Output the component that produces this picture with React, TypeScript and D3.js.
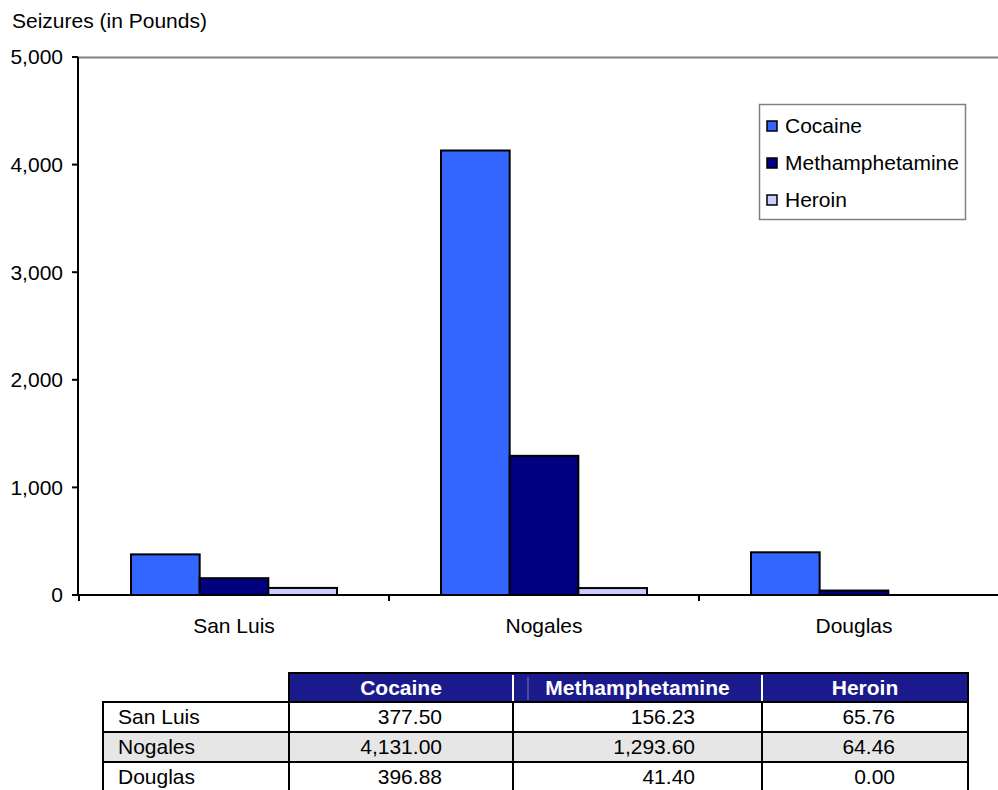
import React from "react";
import * as d3 from "d3";

const categories = ["San Luis", "Nogales", "Douglas"];
const seriesNames = ["Cocaine", "Methamphetamine", "Heroin"];
const cocaine = [377.5, 4131.0, 396.88];
const methamphetamine = [156.23, 1293.6, 41.4];
const heroin = [65.76, 64.46, 0.0];
const yTicks = [0, 1000, 2000, 3000, 4000, 5000];
const colors = ["#3366FF", "#000080", "#CCCCFF"];

const W = 998;
const H = 790;
const FONT = "'Liberation Sans', Arial, sans-serif";
const FS = 21;

export default function App() {
  const series = [cocaine, methamphetamine, heroin];
  const x0 = 79, x1 = 1009;
  const y0 = 595, y1 = 57;
  const xBand = d3.scaleBand<string>().domain(categories).range([x0, x1]).paddingInner(0).paddingOuter(0);
  const bw = xBand.bandwidth();
  const pad = 52;
  const xInner = d3.scaleBand<string>().domain(seriesNames).range([0, bw - 2 * pad]).padding(0);
  const y = d3.scaleLinear().domain([0, 5000]).range([y0, y1]);
  const fmtAxis = d3.format(",");
  const fmtTable = d3.format(",.2f");

  // table geometry
  const colEdges = [103, 289, 513, 762, 968];
  const headerTop = 673, headerH = 29, rowH = 30;
  const valueRight = [442, 695, 895];

  return (
    <svg width={W} height={H} style={{ position: "fixed", left: 0, top: 0, background: "#fff" }} fontFamily={FONT}>
      <rect x={0} y={0} width={W} height={H} fill="#fff" />
      <text x={12} y={28} fontSize={FS} fill="#000">Seizures (in Pounds)</text>

      {/* top border of plot area */}
      <line x1={78} x2={W} y1={y1 + 0.5} y2={y1 + 0.5} stroke="#808080" strokeWidth={2} />

      {/* bars */}
      {categories.map((c, ci) => (
        <g key={c}>
          {series.map((s, si) => {
            const bx = (xBand(c) as number) + pad + (xInner(seriesNames[si]) as number);
            const by = y(s[ci]);
            const h = y0 - by;
            if (h <= 0) return null;
            return (
              <rect key={si} x={bx} y={by} width={xInner.bandwidth()} height={h}
                fill={colors[si]} stroke="#000" strokeWidth={2} />
            );
          })}
        </g>
      ))}

      {/* y axis */}
      <line x1={78} x2={78} y1={y1} y2={y0} stroke="#000" strokeWidth={2} />
      {yTicks.map((t) => (
        <g key={t}>
          <line x1={72} x2={78} y1={y(t)} y2={y(t)} stroke="#000" strokeWidth={2} />
          <text x={63} y={y(t)} dy="0.35em" textAnchor="end" fontSize={FS}>{fmtAxis(t)}</text>
        </g>
      ))}

      {/* x axis */}
      <line x1={78} x2={x1} y1={y0} y2={y0} stroke="#000" strokeWidth={2} />
      {categories.map((c) => (
        <line key={"t" + c} x1={xBand(c) as number} x2={xBand(c) as number} y1={y0} y2={y0 + 6} stroke="#000" strokeWidth={2} />
      ))}
      {categories.map((c) => (
        <text key={"l" + c} x={(xBand(c) as number) + bw / 2} y={633} textAnchor="middle" fontSize={FS}>{c}</text>
      ))}

      {/* legend */}
      <rect x={759.5} y={104.5} width={206} height={115} fill="#fff" stroke="#808080" strokeWidth={1.5} />
      {seriesNames.map((n, i) => (
        <g key={n} transform={`translate(767, ${126 + i * 37})`}>
          <rect x={0} y={-5} width={10} height={10} fill={colors[i]} stroke="#000" strokeWidth={1.5} />
          <text x={18} y={0} dy="0.35em" fontSize={FS}>{n}</text>
        </g>
      ))}

      {/* data table */}
      <rect x={colEdges[1]} y={headerTop} width={colEdges[4] - colEdges[1]} height={headerH} fill="#1A1A8C" />
      <line x1={colEdges[2]} x2={colEdges[2]} y1={headerTop + 2} y2={headerTop + headerH} stroke="#fff" strokeWidth={2} />
      <line x1={colEdges[2] + 15} x2={colEdges[2] + 15} y1={headerTop + 4} y2={headerTop + headerH - 2} stroke="#7a7ab0" strokeWidth={1} />
      <line x1={colEdges[3]} x2={colEdges[3]} y1={headerTop + 2} y2={headerTop + headerH} stroke="#fff" strokeWidth={2} />
      <rect x={colEdges[1]} y={headerTop} width={colEdges[4] - colEdges[1]} height={headerH} fill="none" stroke="#000" strokeWidth={2} />
      {seriesNames.map((n, i) => (
        <text key={"h" + n} x={(colEdges[i + 1] + colEdges[i + 2]) / 2} y={headerTop + headerH / 2} dy="0.35em"
          textAnchor="middle" fontSize={FS} fontWeight="bold" fill="#fff">{n}</text>
      ))}
      {categories.map((c, ri) => {
        const ty = headerTop + headerH + ri * rowH;
        return (
          <g key={"r" + c}>
            <rect x={colEdges[0]} y={ty} width={colEdges[4] - colEdges[0]} height={rowH}
              fill={ri === 1 ? "#E6E6E6" : "#fff"} stroke="#000" strokeWidth={2} />
            {[1, 2, 3].map((k) => (
              <line key={k} x1={colEdges[k]} x2={colEdges[k]} y1={ty} y2={ty + rowH} stroke="#000" strokeWidth={2} />
            ))}
            <text x={118} y={ty + rowH / 2} dy="0.35em" fontSize={FS}>{c}</text>
            {series.map((s, si) => (
              <text key={si} x={valueRight[si]} y={ty + rowH / 2} dy="0.35em" textAnchor="end" fontSize={FS}>{fmtTable(s[ri])}</text>
            ))}
          </g>
        );
      })}
    </svg>
  );
}
